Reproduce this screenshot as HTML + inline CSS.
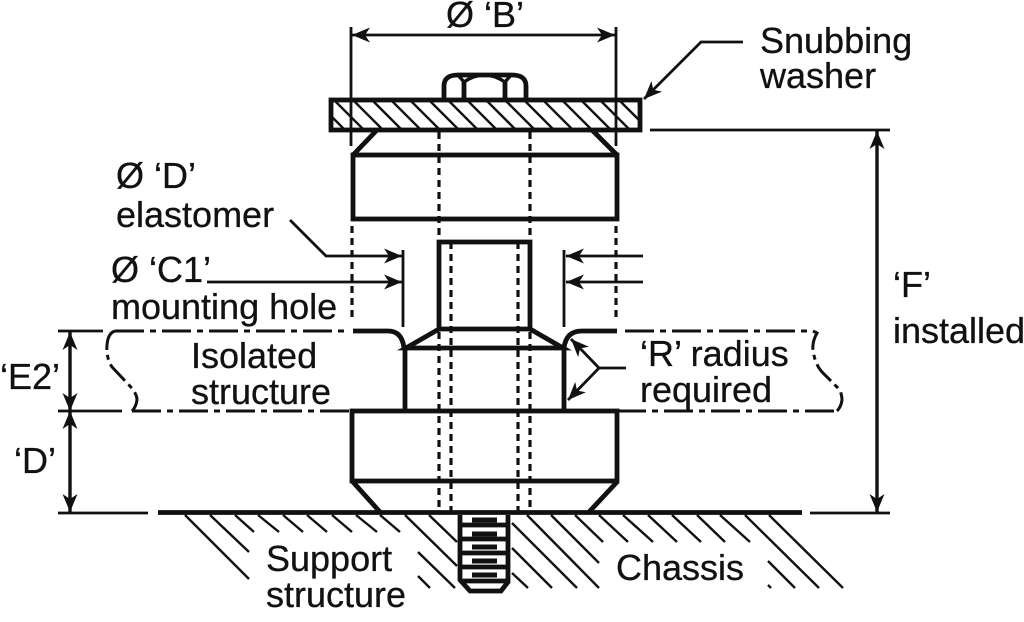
<!DOCTYPE html>
<html><head><meta charset="utf-8"><style>
html,body{margin:0;padding:0;background:#fff}
svg{display:block}
text{font-family:"Liberation Sans",sans-serif;font-size:36px;fill:#111;stroke:#111;stroke-width:.3}
.k{stroke:#111;fill:none;stroke-width:4.8}
.t{stroke:#111;fill:none;stroke-width:2.8}
.h{stroke:#111;fill:none;stroke-width:2.4}
.d{stroke:#111;fill:none;stroke-width:3.2;stroke-dasharray:7 5}
.dd{stroke:#111;fill:none;stroke-width:3;stroke-dasharray:29 6 6 6}
.a{stroke:#111;fill:none;stroke-width:2.8;marker-end:url(#ar)}
.b{stroke:#111;fill:none;stroke-width:2.8;marker-end:url(#ar);marker-start:url(#ar)}
</style></head><body>
<svg width="1024" height="622" viewBox="0 0 1024 622" xmlns="http://www.w3.org/2000/svg">
<defs>
<marker id="ar" markerUnits="userSpaceOnUse" markerWidth="24" markerHeight="20" refX="19" refY="10" orient="auto-start-reverse">
<path d="M19,10 L1,2.500 L6,10 L1,17.500 Z" fill="#111"/>
</marker>
<clipPath id="w"><rect x="331" y="100" width="309" height="30"/></clipPath>
</defs>

<!-- washer hatching -->
<g class="h" clip-path="url(#w)">
<path d="M296,100l30,30M315,100l30,30M334,100l30,30M353,100l30,30M372,100l30,30M391,100l30,30M410,100l30,30M429,100l30,30M448,100l30,30M467,100l30,30M486,100l30,30M505,100l30,30M524,100l30,30M543,100l30,30M562,100l30,30M581,100l30,30M600,100l30,30M619,100l30,30"/>
</g>
<rect class="k" x="331" y="100" width="309" height="30"/>

<!-- nut -->
<path class="k" d="M444,99V86Q444,75 458,75H512Q526,75 526,86V99M464,99V82M505,99V82"/>
<path class="k" style="stroke-width:3.4" d="M464,82Q484,68 505,82M464,82L458,75M505,82L511,75"/>

<!-- upper cone and body -->
<path class="k" d="M377,130L353,155M592,130L617,155"/>
<rect class="k" x="353" y="155" width="264" height="64"/>

<!-- dim B -->
<path class="t" d="M351,27V146M616,27V146"/>
<path class="b" d="M352,35H615"/>

<!-- hidden lines -->
<path class="d" d="M439,132V242M530,132V242M352,226V320M616,226V320"/>
<path class="d" d="M439,332V512M530,332V512M451,242V512M518,242V512"/>

<!-- stud -->
<path class="k" d="M439,329V242H530V329H439L406,348H563L530,329"/>
<path class="k" d="M405,348V411M564,348V411"/>

<!-- hole shoulder -->
<path class="k" d="M353,331H388Q402,331 404,348M617,331H582Q566,331 564,348"/>
<path class="t" d="M403,250V327M564,250V327"/>

<!-- arrows left -->
<path class="a" d="M290,220L326,256H402"/>
<path class="a" d="M207,282H402"/>
<!-- arrows right -->
<path class="a" d="M643,256H566"/>
<path class="a" d="M643,282H566"/>

<!-- lower body -->
<rect class="k" x="352" y="411" width="265" height="70"/>
<path class="k" d="M353,482L380,512M617,482L589,512"/>

<!-- radius leader -->
<path class="a" d="M626,368H599L571,339"/>
<path class="a" d="M599,368L568,400"/>

<!-- structure break lines -->
<path class="t" d="M58,331H103M58,411H122M58,513H148"/>
<path class="dd" d="M115,331H350"/>
<path class="dd" d="M625,331H813"/>
<path class="dd" d="M132,411H352"/>
<path class="dd" d="M617,411H837"/>
<path class="dd" style="stroke-dasharray:22 5 5 5" d="M115,331Q108,333 107,345Q106,358 112,367L128,384Q137,393 137,400Q136,407 132,411"/>
<path class="dd" style="stroke-dasharray:22 5 5 5" d="M813,331L817,333Q812,342 813,350Q815,365 823,373L840,390Q842,396 842,400Q841,407 837,411"/>

<!-- dims left -->
<path class="b" style="stroke-width:3.4" d="M70,332V411"/>
<path class="b" style="stroke-width:3.4" d="M70,411V512"/>

<!-- dim F -->
<path class="t" d="M650,130H890M810,513H890"/>
<path class="b" style="stroke-width:3.4" d="M877,131V512"/>

<!-- snubbing leader -->
<path class="a" d="M743,42H701L644,99"/>

<!-- base -->
<path class="k" d="M158,512.500H802"/>

<!-- ground hatching -->
<path class="h" d="M185,515L249,579M210,515L249,552M235,515L254,532M258,515L279,532M283,515L303,532M307,515L327,532M332,515L352,532M356,515L377,532M380,515L400,532
M405,515L457,566M429,515L457,542M418,552L455,588M418,576L430,588
M512,523L577,588M512,548L552,588M512,573L528,588M527,515L599,588M551,515L599,563M575,515L603,542M599,515L628,542M623,515L653,542M648,515L677,542M672,515L701,542M697,515L725,542M720,515L750,542M745,515L819,588M769,515L843,588M768,561L795,588M768,585L771,588"/>

<!-- bolt -->
<path class="k" d="M460,515V580L470,591H501L508,582V515"/>
<path class="k" d="M460,525H508M460,539H508M460,553H508M460,567H508M460,581H508"/>
<path stroke="#111" stroke-width="5" fill="none" d="M472,520H497M472,534H497M472,547H497M472,561H497M472,575H497"/>

<!-- labels -->
<text x="446" y="27">Ø ‘B’</text>
<text x="760" y="53">Snubbing</text>
<text x="760" y="88">washer</text>
<text x="116" y="188">Ø ‘D’</text>
<text x="116" y="227">elastomer</text>
<text x="111" y="282">Ø ‘C1’</text>
<text x="111" y="319">mounting hole</text>
<text x="191" y="368">Isolated</text>
<text x="191" y="404">structure</text>
<text x="0" y="389">‘E2’</text>
<text x="14" y="473">‘D’</text>
<text x="893" y="297">‘F’</text>
<text x="893" y="343">installed</text>
<text x="640" y="366">‘R’ radius</text>
<text x="640" y="402">required</text>
<text x="266" y="571">Support</text>
<text x="266" y="607">structure</text>
<text x="616" y="580">Chassis</text>
</svg>
</body></html>
